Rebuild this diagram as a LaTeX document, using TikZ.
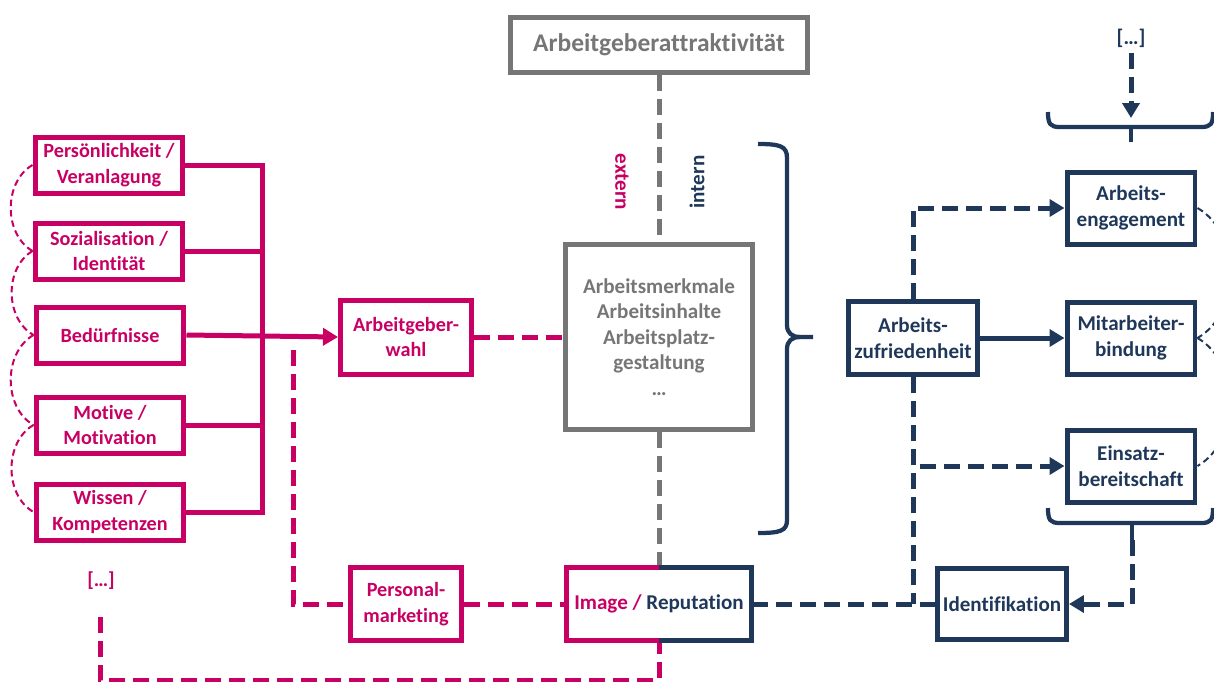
\documentclass[tikz,border=0pt]{standalone}
\usepackage{fontspec}
\setmainfont{Carlito}[Ligatures=NoCommon]
\usetikzlibrary{arrows.meta}
\definecolor{mag}{RGB}{200,0,100}
\definecolor{navy}{RGB}{31,56,90}
\definecolor{grau}{RGB}{118,118,118}

\begin{document}
\begin{tikzpicture}[x=0.02cm,y=-0.02cm,
  font=\fontsize{12}{14.5}\selectfont\bfseries,
  box/.style={draw,line width=0.1cm,align=center,inner sep=1pt},
  mbox/.style={box,draw=mag,text=mag,minimum width=2.96cm,minimum height=1.12cm,
    font=\fontsize{11.5}{14.5}\selectfont\bfseries},
  nbox/.style={box,draw=navy,text=navy,minimum width=2.56cm,minimum height=1.44cm},
  ln/.style={line width=0.1cm},
  dsh/.style={ln,dash pattern=on 0.32cm off 0.16cm},
  tip/.style={-{Triangle[length=0.3cm,width=0.34cm]}},
  arcline/.style={line width=0.04cm,dash pattern=on 0.13cm off 0.08cm},
  brace/.style={navy,line width=0.085cm}]
\useasboundingbox (0,0) rectangle (1214,681);

\node[mbox] (p1) at (109,165) {Persönlichkeit /\\Veranlagung};
\node[mbox] (p2) at (109,251) {Sozialisation /\\Identität};
\node[mbox] (p3) at (110,335) {Bedürfnisse};
\node[mbox] (p4) at (110,425) {Motive /\\Motivation};
\node[mbox] (p5) at (110,512) {Wissen /\\Kompetenzen};
\node[text=mag,font=\fontsize{11.5}{14.5}\selectfont\bfseries] (dotsL) at (101,581) {[…]};
\coordinate (bus) at (262,0);

\node[mbox,minimum width=2.62cm,minimum height=1.48cm] (wahl) at (406,337) {Arbeitgeber-\\wahl};
\node[mbox,minimum width=2.22cm,minimum height=1.46cm] (pers) at (406,604) {Personal-\\marketing};

\node[box,draw=grau,text=grau,minimum width=5.94cm,minimum height=1.1cm,font=\fontsize{14.5}{16}\selectfont\bfseries] (title) at (659,45) {Arbeitgeberattraktivität};
\node[box,draw=grau,text=grau,minimum width=3.74cm,minimum height=3.7cm] (merk) at (659,337) {Arbeitsmerkmale\\Arbeitsinhalte\\Arbeitsplatz-\\gestaltung\\…};
\node[text=mag,rotate=-90] (ext) at (622,182) {extern};
\node[text=navy,rotate=90] (int) at (697,182) {intern};

\node[align=center,text=navy,outer sep=0pt,minimum width=3.72cm,minimum height=1.46cm] (img) at (659,604) {\textcolor{mag}{Image /} Reputation};

\node[nbox,minimum width=2.58cm,minimum height=1.46cm] (zuf) at (913,338) {Arbeits-\\zufriedenheit};
\node[nbox] (eng) at (1131,208) {Arbeits-\\engagement};
\node[nbox] (bind) at (1131,338) {Mitarbeiter-\\bindung};
\node[nbox] (eins) at (1131,466) {Einsatz-\\bereitschaft};
\node[nbox,minimum width=2.58cm,minimum height=1.42cm] (ident) at (1002,604) {Identifikation};
\node[text=navy] (dotsR) at (1131,38) {[…]};

\draw[ln,mag] (p1.east) -| (bus |- p5.east) -- (p5.east);
\draw[ln,mag] (p2.east) -- (bus |- p2.east);
\draw[ln,mag] (p4.east) -- (bus |- p4.east);
\draw[ln,mag,tip] (p3.east) -- (wahl.west);
\draw[arcline,mag] (p1.west) to[bend right=60] (p2.west);
\draw[arcline,mag] (p2.west) to[bend right=60] (p3.west);
\draw[arcline,mag] (p3.west) to[bend right=60] (p4.west);
\draw[arcline,mag] (p4.west) to[bend right=60] (p5.west);

\draw[dsh,mag] (wahl.east) -- (merk.west);
\draw[dsh,mag] (293,350) |- (pers.west);
\draw[dsh,mag] (pers.east) -- (img.west);
\draw[dsh,mag] (100,617) -- (100,680) -| (img.south);

\draw[dsh,grau] (title.south) -- (merk.north);
\draw[dsh,grau] (merk.south) -- (img.north);

\draw[ln,mag] (img.north) -- (img.north west) -- (img.south west) -- (img.south);
\draw[ln,navy] (img.north) -- (img.north east) -- (img.south east) -- (img.south);

\draw[brace] (758,144) .. controls (780,144) and (787,146) .. (787,158) -- (787,325)
  .. controls (787,333) and (792,337) .. (800,337) -- (813,337);
\draw[brace] (800,337) .. controls (792,337) and (787,341) .. (787,349) -- (787,520)
  .. controls (787,531) and (780,533) .. (758,533);

\draw[brace] (1048,112) .. controls (1048,124) and (1050,127) .. (1060,127) -- (1201,127)
  .. controls (1211,127) and (1213,124) .. (1213,112);
\draw[brace] (1131,127) -- (1131,142);
\coordinate (topb) at (1131,118);
\draw[dsh,navy,tip] (dotsR.south) -- (topb);

\draw[brace] (1048,508) .. controls (1048,520) and (1050,523) .. (1060,523) -- (1201,523)
  .. controls (1211,523) and (1213,520) .. (1213,508);
\draw[brace] (1132,523) -- (1132,540);
\coordinate (botb) at (1132,540);
\draw[dsh,navy,tip] (botb) |- (ident.east);

\draw[ln,navy,tip] (zuf.east) -- (bind.west);
\draw[dsh,navy,tip] (zuf.north) |- (eng.west);
\draw[dsh,navy,tip] (zuf.south) |- (eins.west);
\draw[dsh,navy] (zuf.south) -- (zuf.south |- ident.west);
\draw[dsh,navy] (img.east) -- (ident.west);
\draw[arcline,navy] (eng.east) to[bend left=60] (bind.east);
\draw[arcline,navy] (bind.east) to[bend left=60] (eins.east);
\end{tikzpicture}
\end{document}
